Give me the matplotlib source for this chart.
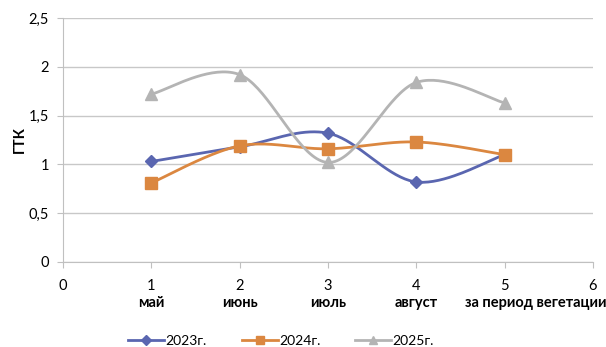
import numpy as np
import matplotlib
matplotlib.use("Agg")
import matplotlib.pyplot as plt
import matplotlib.transforms as mtransforms

plt.rcParams['font.family'] = ['Lato', 'DejaVu Sans']

x = [1, 2, 3, 4, 5]
y2023 = [1.03, 1.18, 1.32, 0.82, 1.10]
y2024 = [0.81, 1.19, 1.16, 1.23, 1.10]
y2025 = [1.72, 1.92, 1.02, 1.84, 1.63]
months = ['май', 'июнь', 'июль', 'август', 'за период вегетации']
month_pos = [1, 2, 3, 4, 5.35]
yticks = [0, 0.5, 1, 1.5, 2, 2.5]
ytick_labels = ['0', '0,5', '1', '1,5', '2', '2,5']


def smooth(xs, ys, n=40):
    # excel-like smoothed line (catmull-rom bezier)
    P = np.column_stack([xs, ys]).astype(float)
    P = np.vstack([P[0], P, P[-1]])
    out = []
    t = np.linspace(0, 1, n)[:, None]
    for i in range(1, len(P) - 2):
        p0, p1 = P[i], P[i + 1]
        c1 = p0 + (P[i + 1] - P[i - 1]) / 6
        c2 = p1 - (P[i + 2] - P[i]) / 6
        seg = (1 - t) ** 3 * p0 + 3 * (1 - t) ** 2 * t * c1 + 3 * (1 - t) * t ** 2 * c2 + t ** 3 * p1
        out.append(seg)
    out = np.vstack(out)
    return out[:, 0], out[:, 1]


fig = plt.figure(figsize=(6.06, 3.47), dpi=100)
ax = fig.add_axes([0.104, 0.245, 0.8745, 0.703])

series = [
    (y2023, '#5A66B0', 'D', 6, '2023г.'),
    (y2024, '#DB8740', 's', 8, '2024г.'),
    (y2025, '#B4B4B4', '^', 8, '2025г.'),
]
for ys, c, m, ms, lab in series:
    sx, sy = smooth(x, ys)
    ax.plot(sx, sy, color=c, lw=2, zorder=3)
    ax.plot(x, ys, ls='none', marker=m, ms=ms, color=c, zorder=4)
    ax.plot([], [], color=c, lw=2, marker=m, ms=ms * 0.8, label=lab)

ax.set_xlim(0, 6)
ax.set_ylim(0, 2.5)
ax.set_xticks(range(7))
ax.set_yticks(yticks)
ax.set_yticklabels(ytick_labels)
ax.grid(axis='y', color='#c8c8c8', lw=1)
ax.set_axisbelow(True)
for s in ['top', 'right']:
    ax.spines[s].set_visible(False)
for s in ['left', 'bottom']:
    ax.spines[s].set_color('#c0c0c0')
ax.tick_params(axis='both', colors='#c0c0c0', labelcolor='#000000', labelsize=10.5, length=4)
ax.tick_params(axis='x', pad=8)
ax.tick_params(axis='y', pad=6)
ax.set_ylabel('ГТК', fontsize=10.5, fontweight='bold')
ax.yaxis.set_label_coords(-0.068, 0.5)

trans = mtransforms.blended_transform_factory(ax.transData, fig.transFigure)
for m, p in zip(months, month_pos):
    ax.text(p, 1 - 303 / 347, m, transform=trans, ha='center', va='center',
            fontsize=10.5, fontweight='bold')

fig.legend(loc='center', bbox_to_anchor=(0.464, 1 - 341 / 347), ncol=3, frameon=False,
           fontsize=10, handlelength=2.6, columnspacing=2.5, handletextpad=0.1)

fig.savefig('out.png', dpi=100)
